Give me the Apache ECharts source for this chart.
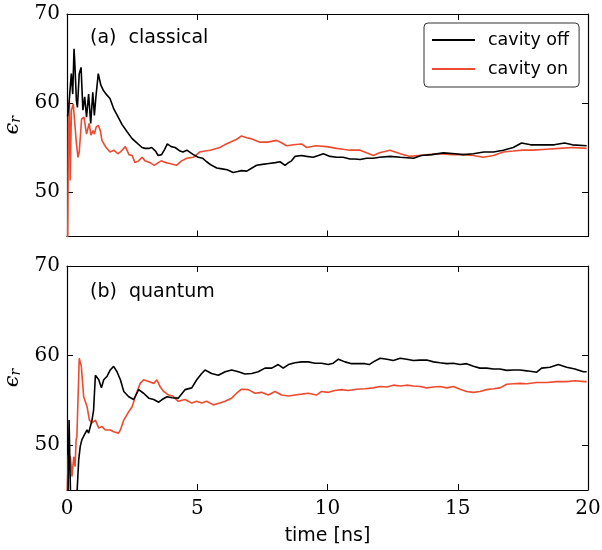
<!DOCTYPE html>
<html><head><meta charset="utf-8">
<script src="https://cdn.jsdelivr.net/npm/echarts@6/dist/echarts.min.js"></script>
<style>html,body{margin:0;padding:0;background:#fff}#c{width:602px;height:550px}</style>
</head><body><div id="c"></div>
<script>
var xTicks = [0, 5, 10, 15, 20];
var yTicks = [50, 60, 70];
var seriesNames = ['cavity off', 'cavity on'];
var panelLabels = ['(a)  classical', '(b)  quantum'];

var classicalOff = [[0.02,58.5],[0.065,59.5],[0.165,63.3],[0.22,61],[0.27,66.1],[0.30,64.5],[0.36,60.3],[0.40,59.5],[0.47,63.3],[0.54,64.0],[0.61,59.2],[0.68,60.7],[0.75,58.4],[0.83,61],[0.91,57.7],[0.99,61.2],[1.05,58.6],[1.11,60.7],[1.20,63.3],[1.30,62.0],[1.40,61.4],[1.50,61.0],[1.65,60.5],[1.80,59.3],[1.95,58.5],[2.11,57.6],[2.30,56.8],[2.50,56.0],[2.65,55.6],[2.88,55.0],[3.00,54.9],[3.14,54.9],[3.25,55.0],[3.40,54.6],[3.50,54.1],[3.63,54.2],[3.75,54.8],[3.85,55.4],[4.00,55.1],[4.15,55.0],[4.34,54.6],[4.45,54.5],[4.60,54.7],[4.85,54.2],[5.04,53.9],[5.20,53.8],[5.36,53.4],[5.55,53.0],[5.75,52.7],[5.95,52.6],[6.15,52.5],[6.38,52.2],[6.55,52.3],[6.70,52.4],[6.90,52.35],[7.10,52.7],[7.28,53.0],[7.50,53.1],[7.75,53.2],[8.00,53.3],[8.18,53.4],[8.37,53.0],[8.50,53.3],[8.62,53.5],[8.75,54.0],[9.00,54.1],[9.20,54.0],[9.45,53.9],[9.65,54.1],[9.84,54.3],[10.10,54.0],[10.35,53.9],[10.60,53.9],[10.86,53.7],[11.05,53.7],[11.25,53.65],[11.50,53.8],[11.75,53.8],[12.0,53.9],[12.4,54.0],[12.8,53.9],[13.3,53.8],[13.6,54.1],[14.0,54.2],[14.45,54.4],[14.9,54.3],[15.2,54.2],[15.6,54.3],[16.0,54.5],[16.37,54.5],[16.75,54.7],[17.13,55.0],[17.45,55.5],[17.8,55.3],[18.29,55.3],[18.7,55.3],[19.1,55.5],[19.4,55.3],[19.95,55.2]];

var classicalOn = [[0.0,40],[0.03,46],[0.06,59.5],[0.09,60.3],[0.12,51.3],[0.17,59.2],[0.24,59.9],[0.26,60.1],[0.30,57.7],[0.36,55.5],[0.42,53.9],[0.47,54.5],[0.56,58.2],[0.65,58.4],[0.75,56.5],[0.85,57.7],[0.92,56.4],[1.0,56.9],[1.05,56.5],[1.12,57.3],[1.20,57.5],[1.28,56.9],[1.34,55.8],[1.50,55.0],[1.65,54.5],[1.80,54.7],[1.95,54.3],[2.05,54.5],[2.24,55.1],[2.38,54.2],[2.50,54.1],[2.61,53.3],[2.75,53.5],[2.88,53.9],[3.0,53.5],[3.19,53.3],[3.35,53.0],[3.50,53.3],[3.62,53.5],[3.80,53.3],[3.95,53.2],[4.20,53.0],[4.40,53.5],[4.60,53.8],[4.85,53.9],[5.10,54.5],[5.30,54.6],[5.50,54.7],[5.87,55.0],[6.05,55.3],[6.26,55.6],[6.50,55.9],[6.70,56.3],[6.90,56.1],[7.05,56.0],[7.41,55.6],[7.70,55.6],[8.05,55.8],[8.25,55.5],[8.43,55.2],[8.70,55.3],[9.0,55.4],[9.20,55.0],[9.55,55.2],[9.97,55.1],[10.35,54.9],[10.6,54.8],[10.86,54.7],[11.25,54.7],[11.5,54.4],[11.76,54.1],[12.0,54.4],[12.4,54.7],[12.8,54.3],[13.17,54.0],[13.5,54.1],[13.9,54.2],[14.3,54.3],[14.8,54.2],[15.2,54.2],[15.6,54.1],[15.98,53.9],[16.37,54.1],[16.75,54.5],[17.13,54.6],[17.5,54.7],[17.9,54.7],[18.4,54.8],[18.9,54.9],[19.4,55.0],[19.95,54.9]];

var quantumOff = [[0.0,44],[0.04,44.5],[0.08,52.8],[0.11,48],[0.14,44],[0.38,44],[0.39,45],[0.45,48.4],[0.51,49.9],[0.57,50.6],[0.64,51.0],[0.77,51.7],[0.83,51.35],[0.96,52.8],[1.02,53.9],[1.09,57.8],[1.22,57.3],[1.32,56.4],[1.41,57.3],[1.54,57.7],[1.66,58.4],[1.79,58.8],[1.92,58.2],[2.05,57.3],[2.18,56.0],[2.37,55.4],[2.56,55.1],[2.75,56.2],[2.94,55.8],[3.14,55.25],[3.33,55.1],[3.52,54.8],[3.65,55.1],[3.84,55.4],[4.03,55.3],[4.27,55.25],[4.53,56.2],[4.79,56.4],[4.98,57.3],[5.17,58.0],[5.30,58.4],[5.55,58.0],[5.81,57.8],[6.07,58.2],[6.32,58.4],[6.58,58.2],[6.83,57.95],[7.09,58.0],[7.34,58.2],[7.60,58.6],[7.86,58.6],[8.11,59.0],[8.30,58.6],[8.50,59.0],[8.75,59.2],[9.01,59.3],[9.26,59.3],[9.52,59.15],[9.77,59.15],[10.03,59.0],[10.22,59.15],[10.42,59.6],[10.67,59.3],[10.93,59.1],[11.18,59.1],[11.44,59.1],[11.6,59.0],[11.76,59.3],[12.02,59.7],[12.28,59.6],[12.53,59.45],[12.79,59.7],[13.04,59.6],[13.30,59.45],[13.55,59.5],[13.81,59.5],[14.07,59.3],[14.32,59.2],[14.58,59.1],[14.83,59.15],[15.09,59.0],[15.34,59.1],[15.6,58.8],[15.85,58.6],[16.11,58.6],[16.37,58.5],[16.62,58.5],[16.88,58.35],[17.13,58.4],[17.39,58.4],[17.65,58.3],[18.03,58.15],[18.22,58.6],[18.54,58.7],[18.86,59.0],[19.18,58.7],[19.50,58.5],[19.82,58.2],[19.95,58.2]];

var quantumOn = [[0.0,44],[0.05,48.9],[0.13,48.7],[0.19,46.5],[0.26,48.7],[0.31,47.6],[0.35,50.6],[0.38,51.0],[0.47,59.7],[0.55,58.8],[0.64,55.4],[0.77,54.3],[0.86,52.8],[0.96,52.5],[1.09,52.8],[1.22,51.9],[1.34,52.1],[1.47,51.7],[1.66,51.7],[1.79,51.5],[1.98,51.35],[2.05,51.7],[2.18,52.8],[2.37,53.75],[2.50,54.3],[2.62,55.4],[2.81,56.9],[2.94,57.3],[3.14,57.1],[3.33,56.9],[3.45,57.3],[3.58,56.5],[3.71,56.0],[3.90,55.6],[4.05,55.5],[4.27,54.9],[4.53,55.1],[4.79,54.7],[4.98,54.9],[5.17,54.7],[5.36,54.9],[5.62,54.5],[5.87,54.7],[6.07,54.9],[6.32,55.25],[6.51,55.8],[6.70,56.25],[6.96,56.2],[7.22,55.8],[7.47,55.9],[7.73,55.6],[7.98,56.0],[8.24,55.6],[8.50,55.5],[8.75,55.6],[9.01,55.7],[9.26,55.8],[9.58,55.6],[9.77,56.0],[10.03,55.9],[10.29,56.1],[10.55,56.2],[10.80,56.1],[11.12,56.25],[11.44,56.3],[11.76,56.4],[12.02,56.55],[12.28,56.5],[12.53,56.7],[12.79,56.6],[13.04,56.7],[13.30,56.6],[13.55,56.55],[13.81,56.4],[14.07,56.5],[14.32,56.55],[14.58,56.4],[14.83,56.55],[15.09,56.25],[15.34,56.0],[15.6,55.9],[15.85,56.0],[16.11,56.2],[16.37,56.3],[16.62,56.4],[16.88,56.8],[17.13,56.85],[17.39,56.9],[17.65,56.85],[18.03,57.0],[18.42,57.0],[18.8,57.1],[19.18,57.1],[19.5,57.2],[19.88,57.1],[19.95,57.1]];

var BLACK = '#000000', RED = '#ec4b2f';
var SERIF = 'DejaVu Serif', SANS = 'DejaVu Sans';

function xAx(grid, pos, labels) {
  return {
    type: 'value', gridIndex: grid, position: pos, min: 0, max: 20, interval: 5,
    axisLine: {show: true, onZero: false, lineStyle: {color: '#000', width: 1.2}},
    axisTick: {show: true, inside: true, length: 6, lineStyle: {color: '#000', width: 1}},
    axisLabel: {show: labels, margin: 9, color: '#000', fontFamily: SERIF, fontSize: 20},
    splitLine: {show: false},
    name: labels ? 'time [ns]' : '', nameLocation: 'middle', nameGap: 37,
    nameTextStyle: {color: '#000', fontFamily: SANS, fontSize: 19}
  };
}
function yAx(grid, pos, labels) {
  return {
    type: 'value', gridIndex: grid, position: pos, min: 45, max: 70,
    axisLine: {show: true, onZero: false, lineStyle: {color: '#000', width: 1.2}},
    axisTick: {show: true, inside: true, length: 6, customValues: yTicks, lineStyle: {color: '#000', width: 1}},
    axisLabel: {show: labels, customValues: yTicks, margin: 7, color: '#000', fontFamily: SERIF, fontSize: 20},
    splitLine: {show: false},
    name: labels ? '{e|ϵ}{r|r}' : '', nameLocation: 'middle', nameGap: 38, nameRotate: 90,
    nameTextStyle: {color: '#000', rich: {
      e: {fontFamily: SERIF, fontStyle: 'italic', fontSize: 21, color: '#000'},
      r: {fontFamily: SERIF, fontStyle: 'italic', fontSize: 14, color: '#000', padding: [8, 0, 0, 0]}
    }}
  };
}

var chart = echarts.init(document.getElementById('c'), null, {renderer: 'canvas'});
chart.setOption({
  animation: false,
  backgroundColor: '#fff',
  grid: [
    {left: 67, top: 14, width: 521, height: 222.5, containLabel: false, outerBoundsMode: 'none'},
    {left: 67, top: 266, width: 521, height: 224, containLabel: false, outerBoundsMode: 'none'}
  ],
  xAxis: [xAx(0, 'bottom', false), xAx(0, 'top', false), xAx(1, 'bottom', true), xAx(1, 'top', false)],
  yAxis: [yAx(0, 'left', true), yAx(0, 'right', false), yAx(1, 'left', true), yAx(1, 'right', false)],
  legend: {
    data: seriesNames, orient: 'vertical', left: 424, top: 23,
    icon: 'rect', itemWidth: 43, itemHeight: 2, itemGap: 11,
    padding: [8, 10, 9, 8], borderColor: '#333', borderWidth: 1, borderRadius: 4,
    backgroundColor: '#fff',
    textStyle: {fontFamily: SANS, fontSize: 17.5, color: '#000', padding: [0, 0, 0, 8]}
  },
  graphic: [
    {type: 'text', left: 90, top: 29, style: {text: panelLabels[0], fontFamily: SANS, fontSize: 19, fill: '#000'}},
    {type: 'text', left: 90, top: 283, style: {text: panelLabels[1], fontFamily: SANS, fontSize: 19, fill: '#000'}}
  ],
  series: [
    {name: seriesNames[0], type: 'line', xAxisIndex: 0, yAxisIndex: 0, data: classicalOff, showSymbol: false, symbol: 'none', clip: true, lineStyle: {color: BLACK, width: 1.6}, itemStyle: {color: BLACK}, z: 3},
    {name: seriesNames[1], type: 'line', xAxisIndex: 0, yAxisIndex: 0, data: classicalOn, showSymbol: false, symbol: 'none', clip: true, lineStyle: {color: RED, width: 1.6}, itemStyle: {color: RED}, z: 2},
    {name: seriesNames[0], type: 'line', xAxisIndex: 2, yAxisIndex: 2, data: quantumOff, showSymbol: false, symbol: 'none', clip: true, lineStyle: {color: BLACK, width: 1.6}, itemStyle: {color: BLACK}, z: 3},
    {name: seriesNames[1], type: 'line', xAxisIndex: 2, yAxisIndex: 2, data: quantumOn, showSymbol: false, symbol: 'none', clip: true, lineStyle: {color: RED, width: 1.6}, itemStyle: {color: RED}, z: 2}
  ]
});
</script></body></html>
